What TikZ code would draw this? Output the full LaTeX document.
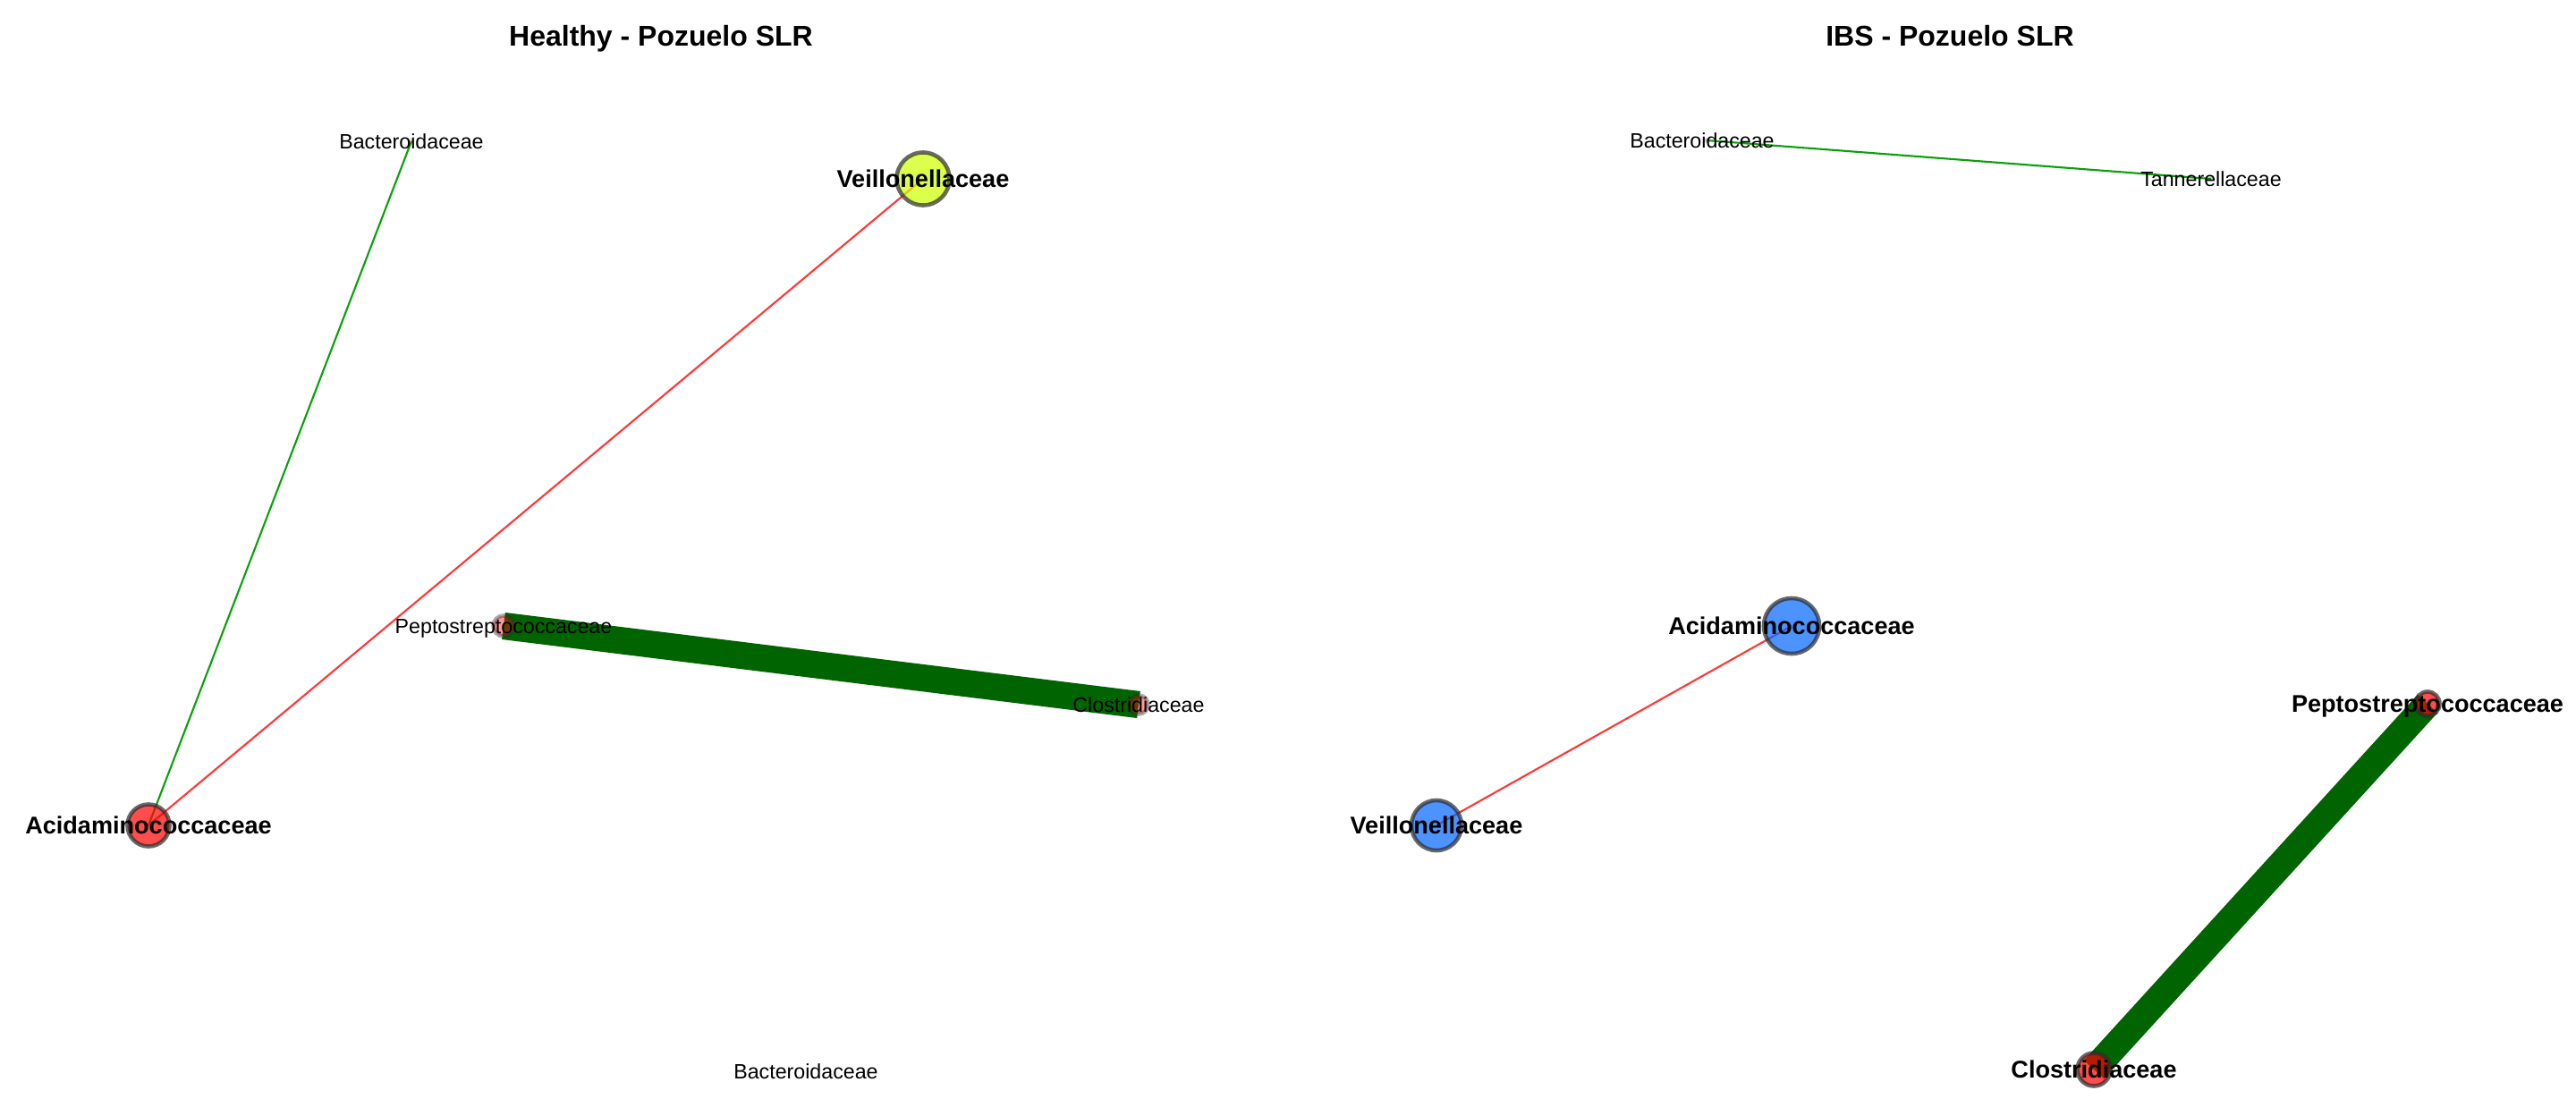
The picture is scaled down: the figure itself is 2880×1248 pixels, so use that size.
\documentclass[tikz,border=0pt]{standalone}
\usepackage{fontspec}
\setmainfont{Liberation Sans}
\usetikzlibrary{backgrounds}
\definecolor{vred}{RGB}{255,0,0}
\definecolor{vblue}{RGB}{0,102,255}
\definecolor{vyellow}{RGB}{206,255,0}
\definecolor{bordgray}{RGB}{44,44,44}
\definecolor{linkgreen}{RGB}{10,160,10}
\definecolor{linkred}{RGB}{255,55,55}
\definecolor{strongreen}{RGB}{0,100,0}
\begin{document}
\begin{tikzpicture}[x=0.01cm, y=-0.01cm,
    vtx/.style={circle, draw=bordgray, line width=1.3pt, opacity=0.7, inner sep=0pt},
    faint/.style={circle, draw=bordgray, line width=1.3pt, fill=vred, opacity=0.4, inner sep=0pt},
    speck/.style={circle, fill=bordgray, opacity=0.2, inner sep=0pt, minimum size=0.06cm},
    lbl/.style={font=\fontsize{6.6}{8}\selectfont, inner sep=0pt, text height=4.7pt, text depth=0pt},
    lblb/.style={font=\fontsize{7.7}{9}\selectfont\bfseries, inner sep=0pt, text height=5.5pt, text depth=0pt},
    ttl/.style={font=\fontsize{9.1}{11}\selectfont\bfseries, inner sep=0pt, text height=6.5pt, text depth=0pt},
    plink/.style={draw=linkgreen, line width=0.6pt},
    nlink/.style={draw=linkred, line width=0.6pt},
    slink/.style={draw=strongreen, line width=8.6pt}]
    \node (htitle) [ttl] at (739,40) {Healthy - Pozuelo SLR};
    \node (ititle) [ttl] at (2180,40) {IBS - Pozuelo SLR};
    \node (hbact) [speck, fill=vred] at (460,158) {};
    \node (hveil) [vtx, fill=vyellow, minimum size=0.59cm] at (1032,200) {};
    \node (hacid) [vtx, fill=vred, minimum size=0.47cm] at (166,923) {};
    \node (hpep) [faint, minimum size=0.23cm] at (563,700) {};
    \node (hclos) [faint, minimum size=0.21cm] at (1273,788) {};
    \node (ibact) [speck] at (1908,157) {};
    \node (itann) [speck] at (2472,200) {};
    \node (iacid) [vtx, fill=vblue, minimum size=0.62cm] at (2003,700) {};
    \node (iveil) [vtx, fill=vblue, minimum size=0.56cm] at (1606,923) {};
    \node (ipep) [vtx, fill=vred, minimum size=0.27cm] at (2714,787) {};
    \node (iclos) [vtx, fill=vred, minimum size=0.37cm] at (2341,1196) {};
    \node (hbactl) [lbl] at (hbact) {Bacteroidaceae};
    \node (hveill) [lblb] at (hveil) {Veillonellaceae};
    \node (hacidl) [lblb] at (hacid) {Acidaminococcaceae};
    \node (hpepl) [lbl] at (hpep) {Peptostreptococcaceae};
    \node (hclosl) [lbl] at (hclos) {Clostridiaceae};
    \node (hbactb) [lbl] at (901,1198) {Bacteroidaceae};
    \node (ibactl) [lbl] at (1903,157) {Bacteroidaceae};
    \node (itannl) [lbl] at (itann) {Tannerellaceae};
    \node (iacidl) [lblb] at (iacid) {Acidaminococcaceae};
    \node (iveill) [lblb] at (iveil) {Veillonellaceae};
    \node (ipepl) [lblb] at (ipep) {Peptostreptococcaceae};
    \node (iclosl) [lblb] at (iclos) {Clostridiaceae};
    \begin{pgfonlayer}{background}
        \path[use as bounding box, fill=white] (0,0) rectangle (2880,1248);
        \draw[plink] (hacid.center) -- (hbact.center);
        \draw[nlink] (hacid.center) -- (hveil.center);
        \draw[slink] (hpep.center) -- (hclos.center);
        \draw[plink] (ibact.center) -- (itann.center);
        \draw[nlink] (iacid.center) -- (iveil.center);
        \draw[slink] (ipep.center) -- (iclos.center);
    \end{pgfonlayer}
\end{tikzpicture}
\end{document}
